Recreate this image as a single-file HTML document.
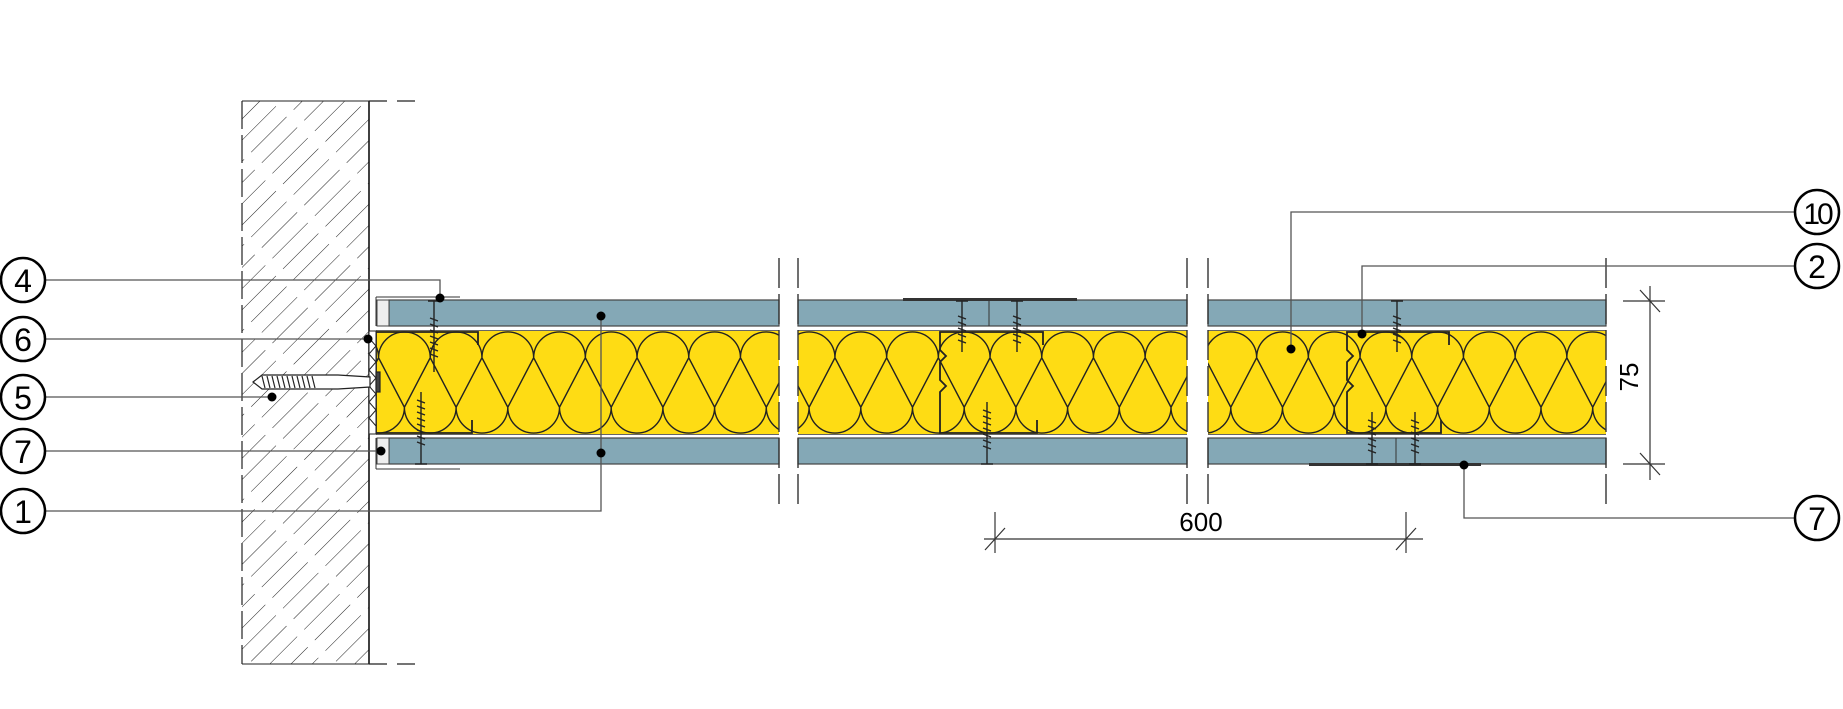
<!DOCTYPE html>
<html><head><meta charset="utf-8"><style>
html,body{margin:0;padding:0;background:#fff;}
svg{display:block;}
text{font-family:"Liberation Sans",sans-serif;}
</style></head><body>
<svg width="1843" height="709" viewBox="0 0 1843 709" xmlns="http://www.w3.org/2000/svg">
<defs>
<pattern id="hatch" patternUnits="userSpaceOnUse" width="15" height="60" patternTransform="rotate(45)">
<line x1="0" y1="0" x2="0" y2="60" stroke="#222" stroke-width="1" stroke-dasharray="50 10"/>
</pattern>
<clipPath id="c1"><rect x="376" y="331" width="403" height="103"/></clipPath>
<clipPath id="c2"><rect x="798" y="331" width="389" height="103"/></clipPath>
<clipPath id="c3"><rect x="1208" y="331" width="398" height="103"/></clipPath>
</defs>

<!-- wall -->
<rect x="242" y="101" width="127" height="563" fill="url(#hatch)"/>
<line x1="242" y1="101" x2="242" y2="664" stroke="#222" stroke-width="1.2" stroke-dasharray="28 6"/>
<line x1="369" y1="101" x2="369" y2="664" stroke="#111" stroke-width="1.6"/>
<line x1="242" y1="101" x2="369" y2="101" stroke="#222" stroke-width="1"/>
<line x1="242" y1="664" x2="369" y2="664" stroke="#222" stroke-width="1"/>
<line x1="369" y1="101" x2="418" y2="101" stroke="#222" stroke-width="1.2" stroke-dasharray="18 10"/>
<line x1="369" y1="664" x2="418" y2="664" stroke="#222" stroke-width="1.2" stroke-dasharray="18 10"/>

<!-- boards -->
<g fill="#84a8b6" stroke="#444" stroke-width="1.2">
<rect x="389" y="300" width="390" height="26"/>
<rect x="389" y="438" width="390" height="26"/>
<rect x="798" y="300" width="389" height="26"/>
<rect x="798" y="438" width="389" height="26"/>
<rect x="1208" y="300" width="398" height="26"/>
<rect x="1208" y="438" width="398" height="26"/>
</g>
<g stroke="#666" stroke-width="1">
<line x1="376" y1="330.5" x2="779" y2="330.5"/><line x1="376" y1="434.5" x2="779" y2="434.5"/>
<line x1="798" y1="330.5" x2="1187" y2="330.5"/><line x1="798" y1="434.5" x2="1187" y2="434.5"/>
<line x1="1208" y1="330.5" x2="1606" y2="330.5"/><line x1="1208" y1="434.5" x2="1606" y2="434.5"/>
</g>
<!-- end caps -->
<rect x="377" y="300" width="12" height="26" fill="#eee" stroke="#444"/>
<rect x="377" y="438" width="12" height="26" fill="#eee" stroke="#444"/>
<path d="M376 297 H460 M376 297 V326 M376 469 H460 M376 469 V438" stroke="#333" fill="none" stroke-width="1"/>

<!-- insulation -->
<g fill="#fedc14"><rect x="376" y="331" width="403" height="103"/><rect x="798" y="331" width="389" height="103"/><rect x="1208" y="331" width="398" height="103"/></g>
<g id="ins" fill="none" stroke="#222" stroke-width="1.4">
<g clip-path="url(#c1)">
<path d="
M301,407.25 L275.15,357.75 A25.85,25.85 0 0 1 326.85,357.75 L301,407.25
M352.7,407.25 L326.85,357.75 A25.85,25.85 0 0 1 378.55,357.75 L352.7,407.25
M404.4,407.25 L378.55,357.75 A25.85,25.85 0 0 1 430.25,357.75 L404.4,407.25
M456.1,407.25 L430.25,357.75 A25.85,25.85 0 0 1 481.95,357.75 L456.1,407.25
M507.8,407.25 L481.95,357.75 A25.85,25.85 0 0 1 533.65,357.75 L507.8,407.25
M559.5,407.25 L533.65,357.75 A25.85,25.85 0 0 1 585.35,357.75 L559.5,407.25
M611.2,407.25 L585.35,357.75 A25.85,25.85 0 0 1 637.05,357.75 L611.2,407.25
M662.9,407.25 L637.05,357.75 A25.85,25.85 0 0 1 688.75,357.75 L662.9,407.25
M714.6,407.25 L688.75,357.75 A25.85,25.85 0 0 1 740.45,357.75 L714.6,407.25
M766.3,407.25 L740.45,357.75 A25.85,25.85 0 0 1 792.15,357.75 L766.3,407.25
M326.85,357.75 L301,407.25 A25.85,25.85 0 0 0 352.7,407.25 L326.85,357.75
M378.55,357.75 L352.7,407.25 A25.85,25.85 0 0 0 404.4,407.25 L378.55,357.75
M430.25,357.75 L404.4,407.25 A25.85,25.85 0 0 0 456.1,407.25 L430.25,357.75
M481.95,357.75 L456.1,407.25 A25.85,25.85 0 0 0 507.8,407.25 L481.95,357.75
M533.65,357.75 L507.8,407.25 A25.85,25.85 0 0 0 559.5,407.25 L533.65,357.75
M585.35,357.75 L559.5,407.25 A25.85,25.85 0 0 0 611.2,407.25 L585.35,357.75
M637.05,357.75 L611.2,407.25 A25.85,25.85 0 0 0 662.9,407.25 L637.05,357.75
M688.75,357.75 L662.9,407.25 A25.85,25.85 0 0 0 714.6,407.25 L688.75,357.75
M740.45,357.75 L714.6,407.25 A25.85,25.85 0 0 0 766.3,407.25 L740.45,357.75
M792.15,357.75 L766.3,407.25 A25.85,25.85 0 0 0 818,407.25 L792.15,357.75"/>
</g>
<g clip-path="url(#c2)">
<path transform="translate(353 0)" d="
M301,407.25 L275.15,357.75 A25.85,25.85 0 0 1 326.85,357.75 L301,407.25
M352.7,407.25 L326.85,357.75 A25.85,25.85 0 0 1 378.55,357.75 L352.7,407.25
M404.4,407.25 L378.55,357.75 A25.85,25.85 0 0 1 430.25,357.75 L404.4,407.25
M456.1,407.25 L430.25,357.75 A25.85,25.85 0 0 1 481.95,357.75 L456.1,407.25
M507.8,407.25 L481.95,357.75 A25.85,25.85 0 0 1 533.65,357.75 L507.8,407.25
M559.5,407.25 L533.65,357.75 A25.85,25.85 0 0 1 585.35,357.75 L559.5,407.25
M611.2,407.25 L585.35,357.75 A25.85,25.85 0 0 1 637.05,357.75 L611.2,407.25
M662.9,407.25 L637.05,357.75 A25.85,25.85 0 0 1 688.75,357.75 L662.9,407.25
M714.6,407.25 L688.75,357.75 A25.85,25.85 0 0 1 740.45,357.75 L714.6,407.25
M766.3,407.25 L740.45,357.75 A25.85,25.85 0 0 1 792.15,357.75 L766.3,407.25
M818,407.25 L792.15,357.75 A25.85,25.85 0 0 1 843.85,357.75 L818,407.25
M326.85,357.75 L301,407.25 A25.85,25.85 0 0 0 352.7,407.25 L326.85,357.75
M378.55,357.75 L352.7,407.25 A25.85,25.85 0 0 0 404.4,407.25 L378.55,357.75
M430.25,357.75 L404.4,407.25 A25.85,25.85 0 0 0 456.1,407.25 L430.25,357.75
M481.95,357.75 L456.1,407.25 A25.85,25.85 0 0 0 507.8,407.25 L481.95,357.75
M533.65,357.75 L507.8,407.25 A25.85,25.85 0 0 0 559.5,407.25 L533.65,357.75
M585.35,357.75 L559.5,407.25 A25.85,25.85 0 0 0 611.2,407.25 L585.35,357.75
M637.05,357.75 L611.2,407.25 A25.85,25.85 0 0 0 662.9,407.25 L637.05,357.75
M688.75,357.75 L662.9,407.25 A25.85,25.85 0 0 0 714.6,407.25 L688.75,357.75
M740.45,357.75 L714.6,407.25 A25.85,25.85 0 0 0 766.3,407.25 L740.45,357.75
M792.15,357.75 L766.3,407.25 A25.85,25.85 0 0 0 818,407.25 L792.15,357.75
M843.85,357.75 L818,407.25 A25.85,25.85 0 0 0 869.7,407.25 L843.85,357.75"/>
</g>
<g clip-path="url(#c3)">
<path transform="translate(723 0)" d="
M301,407.25 L275.15,357.75 A25.85,25.85 0 0 1 326.85,357.75 L301,407.25
M352.7,407.25 L326.85,357.75 A25.85,25.85 0 0 1 378.55,357.75 L352.7,407.25
M404.4,407.25 L378.55,357.75 A25.85,25.85 0 0 1 430.25,357.75 L404.4,407.25
M456.1,407.25 L430.25,357.75 A25.85,25.85 0 0 1 481.95,357.75 L456.1,407.25
M507.8,407.25 L481.95,357.75 A25.85,25.85 0 0 1 533.65,357.75 L507.8,407.25
M559.5,407.25 L533.65,357.75 A25.85,25.85 0 0 1 585.35,357.75 L559.5,407.25
M611.2,407.25 L585.35,357.75 A25.85,25.85 0 0 1 637.05,357.75 L611.2,407.25
M662.9,407.25 L637.05,357.75 A25.85,25.85 0 0 1 688.75,357.75 L662.9,407.25
M714.6,407.25 L688.75,357.75 A25.85,25.85 0 0 1 740.45,357.75 L714.6,407.25
M766.3,407.25 L740.45,357.75 A25.85,25.85 0 0 1 792.15,357.75 L766.3,407.25
M818,407.25 L792.15,357.75 A25.85,25.85 0 0 1 843.85,357.75 L818,407.25
M869.7,407.25 L843.85,357.75 A25.85,25.85 0 0 1 895.55,357.75 L869.7,407.25
M326.85,357.75 L301,407.25 A25.85,25.85 0 0 0 352.7,407.25 L326.85,357.75
M378.55,357.75 L352.7,407.25 A25.85,25.85 0 0 0 404.4,407.25 L378.55,357.75
M430.25,357.75 L404.4,407.25 A25.85,25.85 0 0 0 456.1,407.25 L430.25,357.75
M481.95,357.75 L456.1,407.25 A25.85,25.85 0 0 0 507.8,407.25 L481.95,357.75
M533.65,357.75 L507.8,407.25 A25.85,25.85 0 0 0 559.5,407.25 L533.65,357.75
M585.35,357.75 L559.5,407.25 A25.85,25.85 0 0 0 611.2,407.25 L585.35,357.75
M637.05,357.75 L611.2,407.25 A25.85,25.85 0 0 0 662.9,407.25 L637.05,357.75
M688.75,357.75 L662.9,407.25 A25.85,25.85 0 0 0 714.6,407.25 L688.75,357.75
M740.45,357.75 L714.6,407.25 A25.85,25.85 0 0 0 766.3,407.25 L740.45,357.75
M792.15,357.75 L766.3,407.25 A25.85,25.85 0 0 0 818,407.25 L792.15,357.75
M843.85,357.75 L818,407.25 A25.85,25.85 0 0 0 869.7,407.25 L843.85,357.75
M895.55,357.75 L869.7,407.25 A25.85,25.85 0 0 0 921.4,407.25 L895.55,357.75"/>
</g>
</g>

<!-- tracks / studs -->
<g fill="none" stroke="#222" stroke-width="1.8">
<path d="M478 345 V332 H376 V433 H472 V420"/>
<path d="M1043 345 V332 H940 V350 L946 356 L940 362 V380 L946 386 L940 392 V433 H1037 V420"/>
<path d="M1449 345 V332 H1347 V350 L1353 356 L1347 362 V380 L1353 386 L1347 392 V433 H1441 V420"/>
</g>
<!-- joints -->
<line x1="989" y1="300" x2="989" y2="326" stroke="#333"/>
<line x1="1396" y1="438" x2="1396" y2="464" stroke="#333"/>
<!-- plates -->
<rect x="903" y="298" width="174" height="3" fill="#333"/>
<rect x="1309" y="463" width="172" height="3" fill="#333"/>

<!-- sealant strip -->
<rect x="369" y="331" width="7" height="103" fill="#fff" stroke="#222"/>
<path d="M369 338 L376 346 L369 354 L376 362 L369 370 L376 378 L369 386 L376 394 L369 402 L376 410 L369 418 L376 426" stroke="#222" fill="none"/>

<!-- anchor -->
<g stroke="#222" fill="#fff" stroke-width="1.2">
<path d="M253 382 L262 375 H338 L370 377 V387 L338 389 H262 Z"/>
<path d="M262 376 l3 12 M267 376 l3 12 M272 376 l3 12 M277 376 l3 12 M282 376 l3 12 M287 376 l3 12 M292 376 l3 12 M297 376 l3 12 M302 376 l3 12 M307 376 l3 12 M312 376 l3 12" fill="none"/>
<rect x="376" y="372" width="4" height="20" fill="#444"/>
</g>

<!-- screws -->
<g stroke="#222" stroke-width="1.4" fill="none">
<path d="M428 301 H440 M434 301 V372 M430 318 l8 3 M430 324 l8 3 M430 330 l8 3 M430 336 l8 3 M430 342 l8 3 M430 348 l8 3 M430 354 l8 3"/>
<path d="M415 464 H427 M421 464 V392 M417 400 l8 3 M417 406 l8 3 M417 412 l8 3 M417 418 l8 3 M417 424 l8 3 M417 430 l8 3 M417 436 l8 3 M417 442 l8 3"/>
<path d="M956 301 H968 M962 301 V352 M958 316 l8 3 M958 322 l8 3 M958 328 l8 3 M958 334 l8 3 M958 340 l8 3"/>
<path d="M1011 301 H1023 M1017 301 V352 M1013 316 l8 3 M1013 322 l8 3 M1013 328 l8 3 M1013 334 l8 3 M1013 340 l8 3"/>
<path d="M981 464 H993 M987 464 V402 M983 410 l8 3 M983 416 l8 3 M983 422 l8 3 M983 428 l8 3 M983 434 l8 3 M983 440 l8 3 M983 446 l8 3"/>
<path d="M1391 301 H1403 M1397 301 V352 M1393 316 l8 3 M1393 322 l8 3 M1393 328 l8 3 M1393 334 l8 3 M1393 340 l8 3"/>
<path d="M1366 464 H1378 M1372 464 V412 M1368 420 l8 3 M1368 426 l8 3 M1368 432 l8 3 M1368 438 l8 3 M1368 444 l8 3 M1368 450 l8 3"/>
<path d="M1409 464 H1421 M1415 464 V412 M1411 420 l8 3 M1411 426 l8 3 M1411 432 l8 3 M1411 438 l8 3 M1411 444 l8 3 M1411 450 l8 3"/>
</g>

<!-- break lines -->
<g stroke="#333" stroke-width="1.4" stroke-dasharray="30 6">
<line x1="779" y1="258" x2="779" y2="505"/>
<line x1="798" y1="258" x2="798" y2="505"/>
<line x1="1187" y1="258" x2="1187" y2="505"/>
<line x1="1208" y1="258" x2="1208" y2="505"/>
<line x1="1606" y1="258" x2="1606" y2="505"/>
</g>

<!-- leaders -->
<g stroke="#555" stroke-width="1.3" fill="none">
<path d="M45 280 H440 V298"/>
<path d="M45 339 H368"/>
<path d="M45 397 H272"/>
<path d="M45 451 H381"/>
<path d="M45 511 H601 V316"/>
<path d="M1795 212 H1291 V349"/>
<path d="M1795 266 H1362 V334"/>
<path d="M1795 518 H1464 V465"/>
</g>
<g fill="#000">
<circle cx="440" cy="298" r="4.5"/><circle cx="368" cy="339" r="4.5"/><circle cx="272" cy="397" r="4.5"/>
<circle cx="381" cy="451" r="4.5"/><circle cx="601" cy="316" r="4.5"/><circle cx="601" cy="453" r="4.5"/>
<circle cx="1291" cy="349" r="4.5"/><circle cx="1362" cy="334" r="4.5"/><circle cx="1464" cy="465" r="4.5"/>
</g>
<g fill="#fff" stroke="#000" stroke-width="2.5">
<circle cx="23" cy="280" r="22"/><circle cx="23" cy="339" r="22"/><circle cx="23" cy="397" r="22"/>
<circle cx="23" cy="451" r="22"/><circle cx="23" cy="511" r="22"/>
<circle cx="1817" cy="212" r="22"/><circle cx="1817" cy="266" r="22"/><circle cx="1817" cy="518" r="22"/>
</g>
<g font-size="32" text-anchor="middle" fill="#000">
<text x="23" y="292">4</text><text x="23" y="351">6</text><text x="23" y="409">5</text>
<text x="23" y="463">7</text><text x="23" y="523">1</text>
<text x="1817" y="224" letter-spacing="-3" font-size="30">10</text><text x="1817" y="278">2</text><text x="1817" y="530">7</text>
</g>

<!-- dimensions -->
<g stroke="#333" stroke-width="1.2" fill="none">
<line x1="1650" y1="286" x2="1650" y2="480"/>
<line x1="1623" y1="301" x2="1665" y2="301"/>
<line x1="1623" y1="464" x2="1665" y2="464"/>
<line x1="1640" y1="290" x2="1660" y2="312"/>
<line x1="1640" y1="453" x2="1660" y2="475"/>
<line x1="984" y1="539" x2="1423" y2="539"/>
<line x1="995" y1="512" x2="995" y2="553"/>
<line x1="1406" y1="512" x2="1406" y2="553"/>
<line x1="985" y1="550" x2="1005" y2="528"/>
<line x1="1396" y1="550" x2="1416" y2="528"/>
</g>
<text x="1201" y="531" font-size="26" text-anchor="middle">600</text>
<text transform="translate(1638 377) rotate(-90)" font-size="26" text-anchor="middle">75</text>
</svg>
</body></html>
